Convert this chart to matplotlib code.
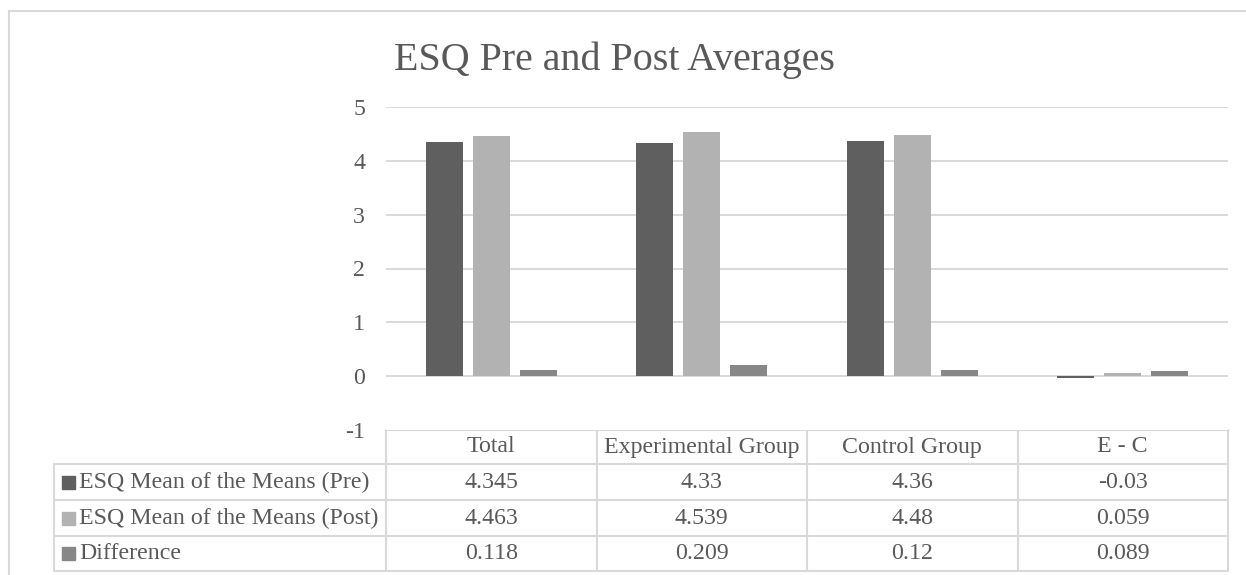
import matplotlib.pyplot as plt
import numpy as np

plt.rcParams['font.family'] = ['Liberation Serif', 'DejaVu Serif']

categories = ['Total', 'Experimental Group', 'Control Group', 'E - C']
series_names = ['ESQ Mean of the Means (Pre)', 'ESQ Mean of the Means (Post)', 'Difference']
pre = [4.345, 4.33, 4.36, -0.03]
post = [4.463, 4.539, 4.48, 0.059]
diff = [0.118, 0.209, 0.12, 0.089]
yticks = [-1, 0, 1, 2, 3, 4, 5]

colors = ['#5f5f5f', '#b2b2b2', '#878787']
text_c = '#595959'
line_c = '#d9d9d9'
fs = 17.2

W, H = 1246, 575
fig = plt.figure(figsize=(W / 100, H / 100), dpi=100)

# plot area (pixel box 386..1228 x 107..430)
px0, px1, py0, py1 = 386, 1228, 107, 430
ax = fig.add_axes([px0 / W, 1 - py1 / H, (px1 - px0) / W, (py1 - py0) / H])
x = np.arange(len(categories))
bw, off = 0.176, 0.223
for i, vals in enumerate([pre, post, diff]):
    ax.bar(x + (i - 1) * off, vals, width=bw, color=colors[i], zorder=3)
ax.set_xlim(-0.5, len(categories) - 0.5)
ax.set_ylim(-1, 5)
ax.set_yticks(yticks)
ax.set_yticklabels([str(t) for t in yticks], fontsize=fs, color=text_c)
ax.tick_params(axis='y', length=0, pad=15)
ax.set_xticks([])
for s in ax.spines.values():
    s.set_visible(False)
for t in yticks[1:]:
    ax.axhline(t, color=line_c, lw=1.4, zorder=1)

# overlay in pixel coordinates for the frame and the data table
ov = fig.add_axes([0, 0, 1, 1], zorder=-1)
ov.set_xlim(0, W)
ov.set_ylim(H, 0)
ov.axis('off')

# chart frame
ov.plot([9, 9], [11, H + 5], color=line_c, lw=1.5)
ov.plot([9, W + 5], [11, 11], color=line_c, lw=1.5)

ov.text(615, 60, 'ESQ Pre and Post Averages', fontsize=28.8, color=text_c,
        ha='center', va='center')

# data table
col_edges = np.linspace(px0, px1, len(categories) + 1)
row_edges = [430, 464, 500, 536, 571]
lab_x0 = 54
tw = 1.5
ov.plot([col_edges[0], col_edges[-1]], [row_edges[0]] * 2, color=line_c, lw=tw)
for y in row_edges[1:]:
    ov.plot([lab_x0, col_edges[-1]], [y, y], color=line_c, lw=tw)
for xe in col_edges:
    ov.plot([xe, xe], [row_edges[0], row_edges[-1]], color=line_c, lw=tw)
ov.plot([lab_x0, lab_x0], [row_edges[1], row_edges[-1]], color=line_c, lw=tw)

centers = (col_edges[:-1] + col_edges[1:]) / 2
for c, name in zip(centers, categories):
    ov.text(c, (row_edges[0] + row_edges[1]) / 2, name, fontsize=fs,
            color=text_c, ha='center', va='center')

for r, (name, vals) in enumerate(zip(series_names, [pre, post, diff])):
    yc = (row_edges[r + 1] + row_edges[r + 2]) / 2
    ov.add_patch(plt.Rectangle((62, yc - 6.5), 13, 13, color=colors[r]))
    ov.text(79, yc, name, fontsize=fs, color=text_c, ha='left', va='center')
    for c, v in zip(centers, vals):
        ov.text(c, yc, f'{v:g}', fontsize=fs, color=text_c,
                ha='center', va='center')

fig.savefig('out.png', dpi=100, facecolor='white')
